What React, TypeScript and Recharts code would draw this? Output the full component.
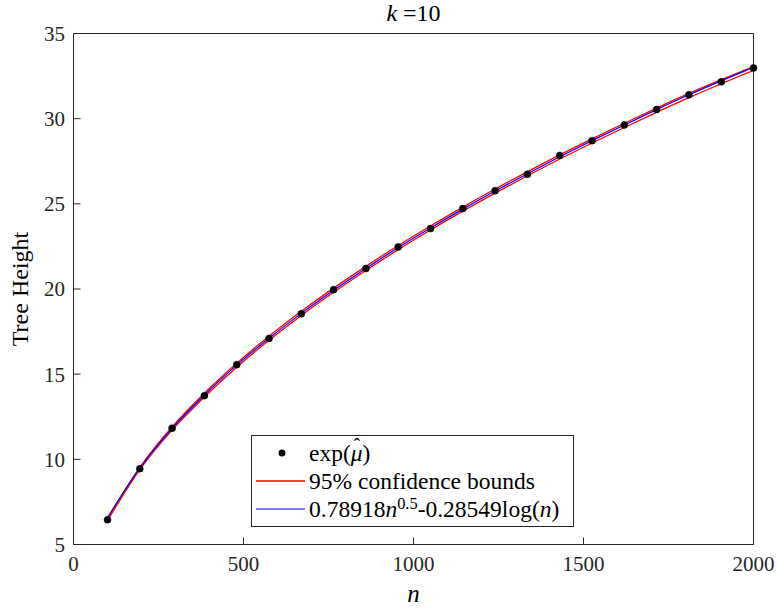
import React from 'react';
import { ComposedChart, Line, XAxis, YAxis, Legend } from 'recharts';

// values
const nValues = [100, 195, 290, 385, 480, 575, 670, 765, 860, 955, 1050, 1145, 1240, 1335, 1430, 1525, 1620, 1715, 1810, 1905, 2000];
const estimate = [6.45, 9.45, 11.83, 13.74, 15.56, 17.1, 18.55, 19.96, 21.2, 22.47, 23.55, 24.72, 25.77, 26.74, 27.84, 28.71, 29.63, 30.54, 31.4, 32.16, 32.98];
const upperBound = [6.5, 9.52, 11.9, 13.88, 15.64, 17.23, 18.69, 20.05, 21.33, 22.55, 23.7, 24.81, 25.87, 26.88, 27.87, 28.81, 29.73, 30.62, 31.48, 32.29, 33.06];
const lowerBound = [6.4, 9.4, 11.72, 13.66, 15.41, 16.99, 18.45, 19.81, 21.09, 22.31, 23.46, 24.57, 25.63, 26.65, 27.63, 28.57, 29.48, 30.37, 31.23, 32.05, 32.84];
const fitted = [6.58, 9.5, 11.82, 13.78, 15.53, 17.11, 18.57, 19.93, 21.21, 22.43, 23.58, 24.69, 25.75, 26.77, 27.76, 28.71, 29.63, 30.53, 31.4, 32.22, 33.02];
const xTicks = [0, 500, 1000, 1500, 2000];
const yTicks = [5, 10, 15, 20, 25, 30, 35];

const data = nValues.map((n, i) => ({
  n,
  estimate: estimate[i],
  upper: upperBound[i],
  lower: lowerBound[i],
  fit: fitted[i],
}));

const FONT = "'Liberation Serif', 'DejaVu Serif', serif";
const AXIS = '#262626';

function Row({ sample, children }: { sample: React.ReactNode; children: React.ReactNode }) {
  return (
    <div style={{ display: 'flex', alignItems: 'center', height: 28, whiteSpace: 'nowrap' }}>
      <svg width={57} height={28} style={{ flex: 'none' }}>{sample}</svg>
      <span>{children}</span>
    </div>
  );
}

function MuHat() {
  return (
    <span style={{ position: 'relative', display: 'inline-block', lineHeight: '20px' }}>
      <i>μ</i>
      <span style={{ position: 'absolute', left: 3, top: -5, fontSize: '0.8em', lineHeight: '14px' }}>ˆ</span>
    </span>
  );
}

function LegendBox() {
  return (
    <div style={{ border: `1px solid ${AXIS}`, background: '#fff', width: 321, padding: '3px 0', fontFamily: FONT, fontSize: 23.5, color: '#000', lineHeight: '28px' }}>
      <Row sample={<circle cx={30} cy={14} r={3.5} fill="#000" />}>
        exp(<MuHat />)
      </Row>
      <Row sample={<line x1={4} x2={53} y1={14} y2={14} stroke="#ff0000" strokeWidth={1.3} />}>
        95% confidence bounds
      </Row>
      <Row sample={<line x1={4} x2={53} y1={14} y2={14} stroke="#0000ff" strokeWidth={1.2} />}>
        0.78918<i>n</i>
        <span style={{ fontSize: '0.7em', verticalAlign: '0.5em', lineHeight: 0 }}>0.5</span>
        -0.28549log(<i>n</i>)
      </Row>
    </div>
  );
}

const tickStyle = { fill: '#262626', fontSize: 21, fontFamily: FONT, style: { fontFamily: FONT } };

export default function App() {
  return (
    <div style={{ position: 'absolute', left: 0, top: 0, width: 777, height: 612, background: '#fff', fontFamily: FONT }}>
      <ComposedChart width={777} height={612} data={data} margin={{ top: 32.5, right: 22.5, bottom: 0, left: 0 }} style={{ fontFamily: FONT }}>
        <XAxis
          dataKey="n"
          type="number"
          domain={[0, 2000]}
          ticks={xTicks}
          interval={0}
          height={67.5}
          tickSize={-7}
          tickMargin={19}
          stroke={AXIS}
          axisLine={{ stroke: AXIS }}
          tickLine={{ stroke: AXIS }}
          tick={tickStyle}
          label={(p: any) => {
            const vb = p.viewBox || { x: 73.5, width: 680 };
            return (
              <text x={vb.x + vb.width / 2} y={602} textAnchor="middle" style={{ fontFamily: FONT }} fontSize={25} fontStyle="italic" fill="#000">
                n
              </text>
            );
          }}
        />
        <XAxis
          xAxisId="top"
          orientation="top"
          type="number"
          domain={[0, 2000]}
          ticks={xTicks}
          interval={0}
          height={1}
          tickSize={-7}
          stroke={AXIS}
          axisLine={{ stroke: AXIS }}
          tickLine={{ stroke: AXIS }}
          tick={false}
          label={(p: any) => {
            const vb = p.viewBox || { x: 73.5, width: 680 };
            return (
              <text x={vb.x + vb.width / 2} y={21} textAnchor="middle" style={{ fontFamily: FONT }} fontSize={24} fill="#000">
                <tspan fontStyle="italic">k</tspan> =10
              </text>
            );
          }}
        />
        <YAxis
          type="number"
          domain={[5, 35]}
          ticks={yTicks}
          interval={0}
          width={73.5}
          tickSize={-7}
          tickMargin={15.5}
          stroke={AXIS}
          axisLine={{ stroke: AXIS }}
          tickLine={{ stroke: AXIS }}
          tick={tickStyle}
          label={(p: any) => {
            const vb = p.viewBox || { y: 33.5, height: 511 };
            const cy = vb.y + vb.height / 2;
            return (
              <text x={28} y={cy} transform={`rotate(-90, 28, ${cy})`} textAnchor="middle" style={{ fontFamily: FONT }} fontSize={24} fill="#000">
                Tree Height
              </text>
            );
          }}
        />
        <YAxis
          yAxisId="right"
          orientation="right"
          type="number"
          domain={[5, 35]}
          ticks={yTicks}
          interval={0}
          width={1}
          tickSize={-7}
          stroke={AXIS}
          axisLine={{ stroke: AXIS }}
          tickLine={{ stroke: AXIS }}
          tick={false}
        />
        <Legend
          layout="vertical"
          align="center"
          verticalAlign="middle"
          wrapperStyle={{ left: 251, top: 434.5, width: 'auto', height: 'auto' }}
          content={() => <LegendBox />}
        />
        <Line
          dataKey="estimate"
          stroke="none"
          dot={{ r: 3.5, fill: '#000', stroke: '#000', strokeWidth: 0.5 }}
          activeDot={false}
          isAnimationActive={false}
        />
        <Line dataKey="upper" type="monotone" stroke="#ff0000" strokeWidth={1.3} dot={false} activeDot={false} isAnimationActive={false} />
        <Line dataKey="lower" type="monotone" stroke="#ff0000" strokeWidth={1.3} dot={false} activeDot={false} isAnimationActive={false} />
        <Line dataKey="fit" type="monotone" stroke="#0000ff" strokeWidth={1.2} dot={false} activeDot={false} isAnimationActive={false} />
      </ComposedChart>
    </div>
  );
}
